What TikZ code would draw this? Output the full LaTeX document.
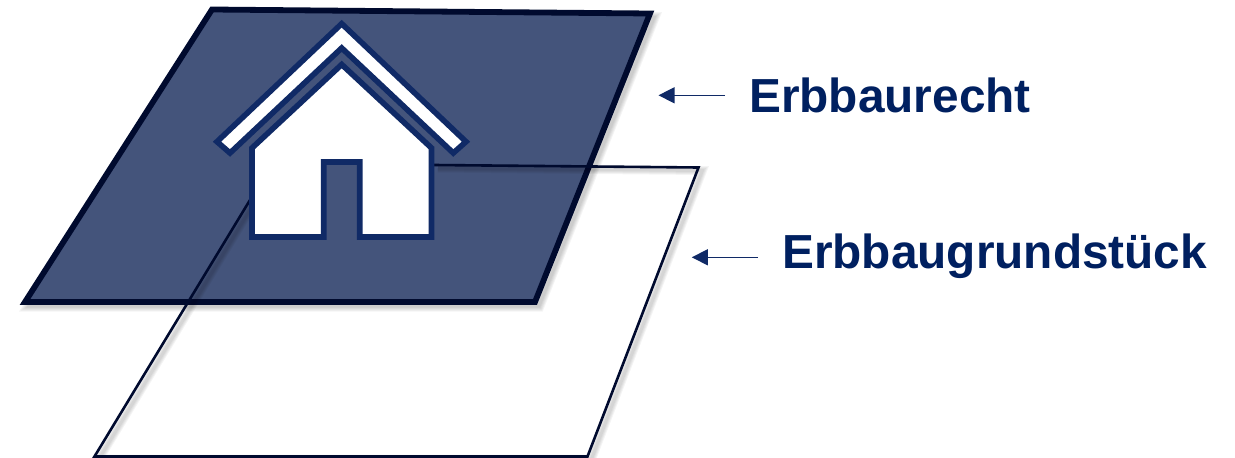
\documentclass[tikz,border=0pt]{standalone}
\usepackage{fontspec}
\setmainfont{Liberation Sans}
\usetikzlibrary{arrows.meta}
\definecolor{planefill}{HTML}{44547B}
\definecolor{planeline}{HTML}{000A2E}
\definecolor{houseline}{HTML}{102A66}
\definecolor{labeltext}{HTML}{002060}
\tikzset{
  x=1pt,y=-1pt,
  softshadow/.style={draw=black,opacity=0.045,line join=miter},
  darkplane/.style={draw=planeline,fill=planefill,line width=5.8pt,line join=miter},
  lightplane/.style={draw=planeline,line width=2.6pt,line join=miter},
  housepart/.style={draw=houseline,fill=white,line width=5.6pt,line join=miter},
  labelnode/.style={font=\fontsize{47.8}{52}\selectfont\bfseries,text=labeltext,anchor=base west,inner sep=0pt},
  pointer/.style={draw=houseline,line width=1.4pt,-{Triangle[length=16pt,width=16pt]}}
}
\begin{document}
\begin{tikzpicture}
\useasboundingbox (0,0) rectangle (1235,458);
% shadow of the upper plane
\foreach \w in {11,9,7,5,3}{
  \draw[softshadow,line width=\w pt,shift={(4,4)}] (212,9.5) -- (650,13.5) -- (535,302) -- (25,302) -- cycle;
}
\draw[darkplane] (212,9.5) -- (650,13.5) -- (535,302) -- (25,302) -- cycle;
% shadow of the lower plane
\foreach \w in {9,7,5,3}{
  \draw[softshadow,line width=\w pt,shift={(4,3)}] (250,200) -- (95,456) (434,165) -- (698.5,167.5) -- (587.5,456) -- (95,456);
}
\draw[lightplane] (250,200) -- (94.5,456.5) -- (587.5,456.5) -- (698.5,167.5) -- (434,165);
% house
\draw[housepart] (341.7,64.5) -- (431.5,148) -- (431.5,237) -- (359.7,237) -- (359.7,162) -- (323.7,162) -- (323.7,237) -- (252,237) -- (252,148) -- cycle;
\draw[housepart] (341.7,23.7) -- (466,141.7) -- (453.3,153) -- (341.7,48) -- (230,153) -- (217,141.7) -- cycle;
% labels and pointers
\node[labelnode] (recht) at (749,112) {Erbbaurecht};
\node[labelnode] (grund) at (782,268) {Erbbaugrundstück};
\coordinate (rechtstart) at (725,95.3);
\coordinate (rechtend) at (658.5,95.3);
\coordinate (grundstart) at (758,257.3);
\coordinate (grundend) at (691.8,257.3);
\draw[pointer] (rechtstart) -- (rechtend);
\draw[pointer] (grundstart) -- (grundend);
\end{tikzpicture}
\end{document}
